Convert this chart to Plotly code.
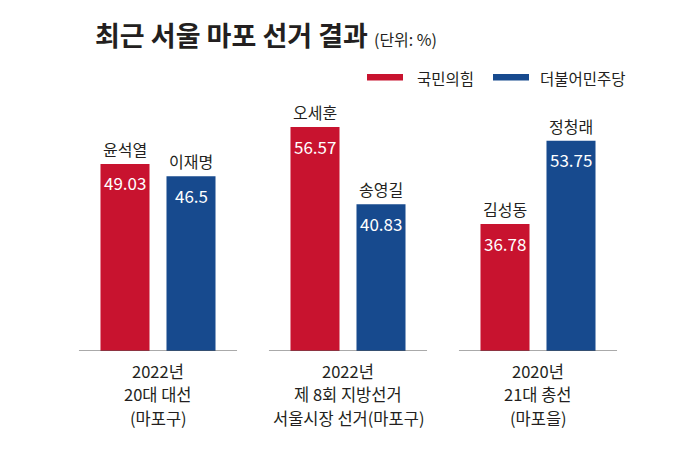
import plotly.graph_objects as go

# 데이터
elections = ["2022년<br>20대 대선<br>(마포구)",
             "2022년<br>제 8회 지방선거<br>서울시장 선거(마포구)",
             "2020년<br>21대 총선<br>(마포을)"]
ppp_names = ["윤석열", "오세훈", "김성동"]
ppp_votes = [49.03, 56.57, 36.78]
dem_names = ["이재명", "송영길", "정청래"]
dem_votes = [46.5, 40.83, 53.75]

RED = "#c8132f"
BLUE = "#174a8e"
INK = "#231f20"
FONT = "Noto Sans CJK KR"

ymin, ymax = 10.87, 64.12
bw = 0.258
xs = list(range(len(elections)))

fig = go.Figure()
series = [("국민의힘", ppp_votes, ppp_names, RED, -0.1737),
          ("더불어민주당", dem_votes, dem_names, BLUE, 0.1737)]
for name, vals, cands, col, off in series:
    fig.add_trace(go.Bar(x=xs, y=vals, name=name, marker_color=col,
                         marker_line_width=0, width=bw, offset=off - bw / 2,
                         showlegend=False, hoverinfo="skip"))
    for i, (v, c) in enumerate(zip(vals, cands)):
        fig.add_annotation(x=i + off, y=v, text=c, showarrow=False,
                           yanchor="middle", yshift=15,
                           font=dict(family=FONT, size=16, color=INK))
        fig.add_annotation(x=i + off, y=v, text=f"{v:g}", showarrow=False,
                           yanchor="middle", yshift=-19,
                           font=dict(family=FONT, size=17, color="white"))

# 카테고리 라벨과 기준선
for i, lab in enumerate(elections):
    fig.add_shape(type="line", x0=i - 0.416, x1=i + 0.416, y0=ymin, y1=ymin,
                  xref="x", yref="y", line=dict(color="#555555", width=1))
    for k, line in enumerate(lab.split("<br>")):
        fig.add_annotation(x=i, y=ymin, text=line, showarrow=False,
                           yanchor="middle", yshift=-20 - 23.3 * k,
                           font=dict(family=FONT, size=16.5, color=INK))

# 범례
legend = [("국민의힘", RED, 367, 415), ("더불어민주당", BLUE, 493, 538)]
for name, col, sx, tx in legend:
    fig.add_shape(type="rect", xref="paper", yref="paper",
                  x0=(sx - 63) / 570, x1=(sx + 36 - 63) / 570,
                  y0=(351 - 80.5) / 261, y1=(351 - 74) / 261,
                  fillcolor=col, line_width=0)
    fig.add_annotation(xref="paper", yref="paper", x=(tx - 63) / 570,
                       y=(351 - 77.5) / 261, text=name, showarrow=False,
                       xanchor="left", yanchor="middle",
                       font=dict(family=FONT, size=15.5, color=INK))

fig.update_layout(
    width=700, height=454,
    margin=dict(l=55, r=75, t=82, b=111),
    paper_bgcolor="white", plot_bgcolor="white",
    barmode="overlay",
    title=dict(text="<b>최근 서울 마포 선거 결과</b> "
                    "<span style='font-size:16px'>(단위: %)</span>",
               x=87 / 700, xanchor="left", y=1 - 29 / 454, yanchor="middle",
               font=dict(family=FONT, size=27, color=INK)),
    xaxis=dict(range=[-0.5, 2.5], visible=False),
    yaxis=dict(range=[ymin, ymax], visible=False),
)

fig.write_html("out.html")
